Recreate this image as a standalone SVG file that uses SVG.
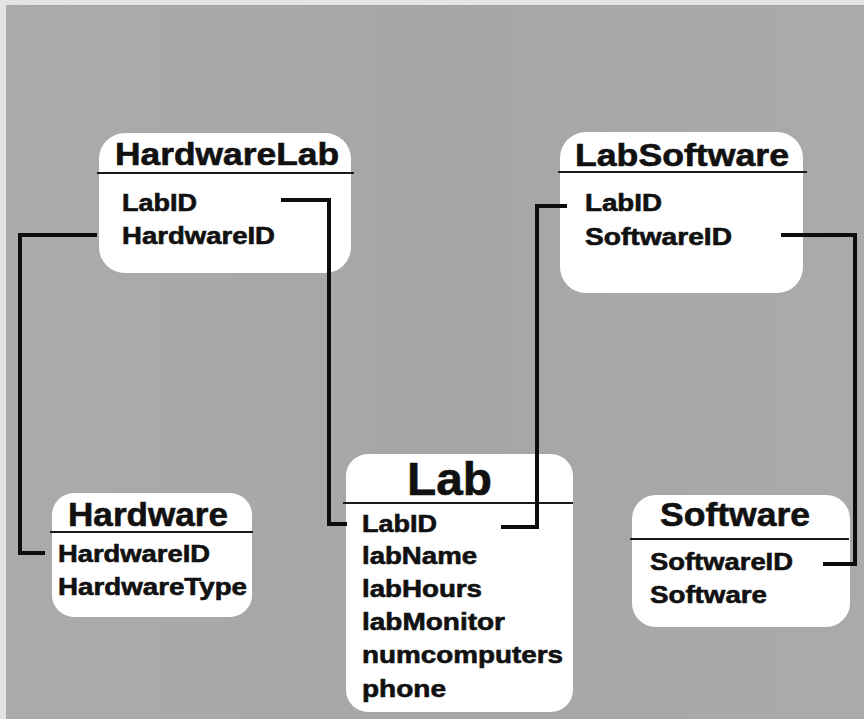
<svg xmlns="http://www.w3.org/2000/svg" width="864" height="719" viewBox="0 0 864 719">
<defs>
<linearGradient id="bg" x1="0" y1="0" x2="1" y2="0">
<stop offset="0" stop-color="#ababab"/>
<stop offset="0.5" stop-color="#a6a6a6"/>
<stop offset="1" stop-color="#aaaaaa"/>
</linearGradient>
</defs>
<style>
.box{fill:#ffffff;stroke:none}
.hdr{stroke:#1a1a1a;stroke-width:2;fill:none}
.t{font-family:"Liberation Sans",Arial,sans-serif;font-weight:bold;fill:#111111;stroke:#111111;stroke-width:0.6}
.title{font-size:31px}
.f{font-size:23px}
.conn{stroke:#0d0d0d;stroke-width:4;fill:none;stroke-linejoin:miter}
</style>
<rect x="0" y="0" width="864" height="719" fill="#e4e4e4"/>
<rect x="6" y="5" width="858" height="714" fill="url(#bg)"/>

<g id="HardwareLab">
<rect class="box" x="99" y="133" width="252" height="140" rx="26"/>
<line class="hdr" x1="97" y1="173" x2="354" y2="173"/>
<text class="t title" x="115" y="165" textLength="224" lengthAdjust="spacingAndGlyphs">HardwareLab</text>
<text class="t f" x="122" y="211" textLength="75" lengthAdjust="spacingAndGlyphs">LabID</text>
<text class="t f" x="122" y="244" textLength="153" lengthAdjust="spacingAndGlyphs">HardwareID</text>
</g>

<g id="LabSoftware">
<rect class="box" x="560" y="132" width="243" height="161" rx="26"/>
<line class="hdr" x1="558" y1="172" x2="807" y2="172"/>
<text class="t title" x="575" y="166" textLength="214" lengthAdjust="spacingAndGlyphs">LabSoftware</text>
<text class="t f" x="585" y="211" textLength="77" lengthAdjust="spacingAndGlyphs">LabID</text>
<text class="t f" x="585" y="245" textLength="147" lengthAdjust="spacingAndGlyphs">SoftwareID</text>
</g>

<g id="Hardware">
<rect class="box" x="52" y="493" width="200" height="124" rx="22"/>
<line class="hdr" x1="50" y1="532" x2="253" y2="532"/>
<text class="t" style="font-size:33px" x="68" y="526" textLength="160" lengthAdjust="spacingAndGlyphs">Hardware</text>
<text class="t f" x="58" y="562" textLength="152" lengthAdjust="spacingAndGlyphs">HardwareID</text>
<text class="t f" x="58" y="595" textLength="189" lengthAdjust="spacingAndGlyphs">HardwareType</text>
</g>

<g id="Lab">
<rect class="box" x="346" y="454" width="227" height="258" rx="22"/>
<line class="hdr" x1="343" y1="503" x2="573" y2="503"/>
<text class="t" style="font-size:46px" x="407" y="495" textLength="85" lengthAdjust="spacingAndGlyphs">Lab</text>
<text class="t f" x="362" y="532" textLength="75" lengthAdjust="spacingAndGlyphs">LabID</text>
<text class="t f" x="362" y="564" textLength="115" lengthAdjust="spacingAndGlyphs">labName</text>
<text class="t f" x="362" y="597" textLength="120" lengthAdjust="spacingAndGlyphs">labHours</text>
<text class="t f" x="362" y="630" textLength="143" lengthAdjust="spacingAndGlyphs">labMonitor</text>
<text class="t f" x="362" y="663" textLength="201" lengthAdjust="spacingAndGlyphs">numcomputers</text>
<text class="t f" x="362" y="697" textLength="84" lengthAdjust="spacingAndGlyphs">phone</text>
</g>

<g id="Software">
<rect class="box" x="632" y="495" width="218" height="132" rx="24"/>
<line class="hdr" x1="630" y1="539" x2="849" y2="539"/>
<text class="t" style="font-size:33px" x="660" y="526" textLength="150" lengthAdjust="spacingAndGlyphs">Software</text>
<text class="t f" x="650" y="570" textLength="143" lengthAdjust="spacingAndGlyphs">SoftwareID</text>
<text class="t f" x="650" y="603" textLength="117" lengthAdjust="spacingAndGlyphs">Software</text>
</g>

<g id="connectors">
<path class="conn" d="M281,200 H329 V524 H347"/>
<path class="conn" d="M501,527 H537 V206 H567"/>
<path class="conn" d="M781,235 H855 V564 H823"/>
<path class="conn" d="M97,235 H20 V553 H45"/>
</g>
</svg>
